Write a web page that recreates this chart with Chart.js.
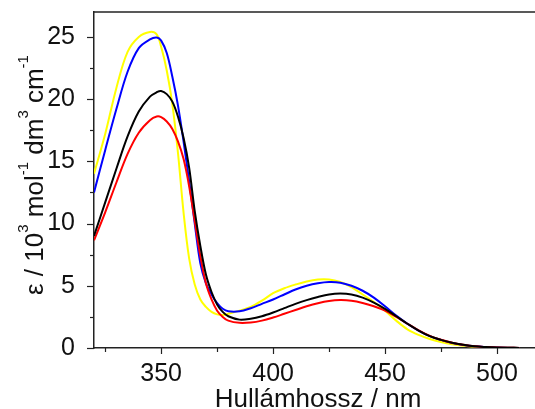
<!DOCTYPE html>
<html>
<head>
<meta charset="utf-8">
<script src="https://cdn.jsdelivr.net/npm/chart.js@4"></script>
<style>
  html, body { margin: 0; padding: 0; background: #fff; }
  #wrap { width: 535px; height: 409px; }
</style>
</head>
<body>
<div id="wrap"><canvas id="chart" width="535" height="409"></canvas></div>
<script>
// wavelength grid (nm)
const wavelengths = [320,325,330,335,340,345,348,350,352.5,355,357.5,360,362.5,365,367.5,370,372.5,375,377.5,380,385,390,395,400,405,410,415,420,425,430,435,440,445,450,455,460,465,470,475,480,485,490,495,500,505,510];

// epsilon / 10^3 mol-1 dm3 cm-1
const yellowSeries = [14.0,17.2,20.9,23.8,25.0,25.4,25.2,24.2,22.3,19.6,15.7,10.9,7.2,5.1,3.9,3.3,2.9,2.7,2.65,2.75,3.0,3.3,3.8,4.4,4.8,5.1,5.35,5.5,5.5,5.3,4.9,4.3,3.7,3.0,2.2,1.5,1.05,0.72,0.48,0.3,0.18,0.1,0.06,0.03,0.02,0.01];
const blueSeries = [12.5,15.9,19.2,22.2,24.1,24.8,24.95,24.7,23.7,21.8,19.5,16.6,13.4,10.0,6.8,5.2,4.3,3.6,3.15,2.95,2.95,3.2,3.55,3.9,4.3,4.7,5.0,5.2,5.3,5.25,5.0,4.6,4.05,3.35,2.6,1.95,1.4,0.95,0.65,0.4,0.25,0.14,0.08,0.04,0.02,0.01];
const blackSeries = [9.0,11.7,14.4,17.0,19.0,20.2,20.55,20.65,20.4,19.8,18.6,16.9,14.5,11.0,8.2,5.9,4.5,3.5,2.9,2.55,2.28,2.35,2.55,2.85,3.2,3.55,3.85,4.1,4.3,4.37,4.3,4.05,3.65,3.15,2.55,1.95,1.4,0.95,0.65,0.42,0.26,0.14,0.08,0.04,0.02,0.01];
const redSeries = [8.65,10.9,13.3,15.6,17.3,18.3,18.6,18.55,18.2,17.6,16.6,15.2,13.0,10.2,7.4,5.2,3.9,3.0,2.5,2.2,2.02,2.05,2.2,2.45,2.75,3.05,3.35,3.6,3.78,3.85,3.8,3.62,3.35,3.0,2.5,1.95,1.42,0.98,0.66,0.42,0.26,0.14,0.08,0.04,0.02,0.01];

// ticks
const xTicks = [325,350,375,400,425,450,475,500];
const yTicks = [0,2.5,5,7.5,10,12.5,15,17.5,20,22.5,25];

const FONT = "'Liberation Sans', Arial, sans-serif";
const AXIS_COLOR = '#222';

function pts(ys) {
  return wavelengths.map((x, i) => ({ x: x, y: ys[i] }));
}

function line(data, color) {
  return {
    data: pts(data),
    borderColor: color,
    borderWidth: 2,
    pointRadius: 0,
    fill: false,
    tension: 0.35
  };
}

// tick marks, top frame and axis titles
const decorations = {
  id: 'decorations',
  afterDraw(chart) {
    const ctx = chart.ctx;
    const area = chart.chartArea;
    const xs = chart.scales.x;
    const ys = chart.scales.y;
    ctx.save();
    ctx.strokeStyle = AXIS_COLOR;
    ctx.lineWidth = 1.5;

    // top frame line
    ctx.beginPath();
    ctx.moveTo(area.left, area.top);
    ctx.lineTo(area.right, area.top);
    ctx.stroke();

    ctx.lineWidth = 1.2;
    xTicks.forEach(v => {
      const px = Math.round(xs.getPixelForValue(v)) + 0.5;
      const len = v % 50 === 0 ? 6 : 4;
      ctx.beginPath();
      ctx.moveTo(px, area.bottom);
      ctx.lineTo(px, area.bottom + len);
      ctx.stroke();
    });
    yTicks.forEach(v => {
      const py = Math.round(ys.getPixelForValue(v)) + 0.5;
      const len = v % 5 === 0 ? 7 : 4;
      ctx.beginPath();
      ctx.moveTo(area.left, py);
      ctx.lineTo(area.left - len, py);
      ctx.stroke();
    });

    // x title
    ctx.fillStyle = '#111';
    ctx.font = '26px ' + FONT;
    ctx.textAlign = 'center';
    ctx.textBaseline = 'alphabetic';
    ctx.fillText('Hullámhossz / nm', 318, 407);

    // y title with superscripts
    const parts = [
      ['ε / 10', false], ['3', true], [' mol', false], ['-1', true],
      [' dm', false], ['3', true], [' cm', false], ['-1', true]
    ];
    const mainFont = '26px ' + FONT;
    const supFont = '15px ' + FONT;
    let total = 0;
    parts.forEach(p => {
      ctx.font = p[1] ? supFont : mainFont;
      total += ctx.measureText(p[0]).width;
    });
    ctx.translate(43, 175);
    ctx.rotate(-Math.PI / 2);
    ctx.textAlign = 'left';
    let pos = -total / 2;
    parts.forEach(p => {
      ctx.font = p[1] ? supFont : mainFont;
      ctx.fillText(p[0], pos, p[1] ? -15 : 0);
      pos += ctx.measureText(p[0]).width;
    });
    ctx.restore();
  }
};

new Chart(document.getElementById('chart'), {
  type: 'line',
  data: {
    datasets: [
      line(blackSeries, '#000000'),
      line(redSeries, '#ff0000'),
      line(blueSeries, '#0000ff'),
      line(yellowSeries, '#ffff00')
    ]
  },
  options: {
    responsive: false,
    animation: false,
    layout: { padding: { top: 12, right: 0, bottom: 0, left: 0 } },
    plugins: { legend: { display: false }, tooltip: { enabled: false } },
    scales: {
      x: {
        type: 'linear',
        min: 320,
        max: 517,
        afterBuildTicks: s => { s.ticks = xTicks.map(v => ({ value: v })); },
        afterFit: s => { s.height = 61; s.paddingLeft = 0; s.paddingRight = 0; },
        grid: { display: false },
        border: { display: true, color: AXIS_COLOR, width: 1.5 },
        ticks: {
          autoSkip: false,
          maxRotation: 0,
          padding: 3,
          color: '#111',
          font: { family: FONT, size: 25 },
          callback: v => (v % 50 === 0 ? v : '')
        }
      },
      y: {
        min: 0,
        max: 27,
        afterBuildTicks: s => { s.ticks = yTicks.map(v => ({ value: v })); },
        afterFit: s => { s.width = 94; s.paddingTop = 0; s.paddingBottom = 0; },
        grid: { display: false },
        border: { display: true, color: AXIS_COLOR, width: 1.5 },
        ticks: {
          autoSkip: false,
          padding: 11,
          color: '#111',
          font: { family: FONT, size: 25 },
          callback: v => (v % 5 === 0 ? v : '')
        }
      }
    }
  },
  plugins: [decorations]
});
</script>
</body>
</html>
